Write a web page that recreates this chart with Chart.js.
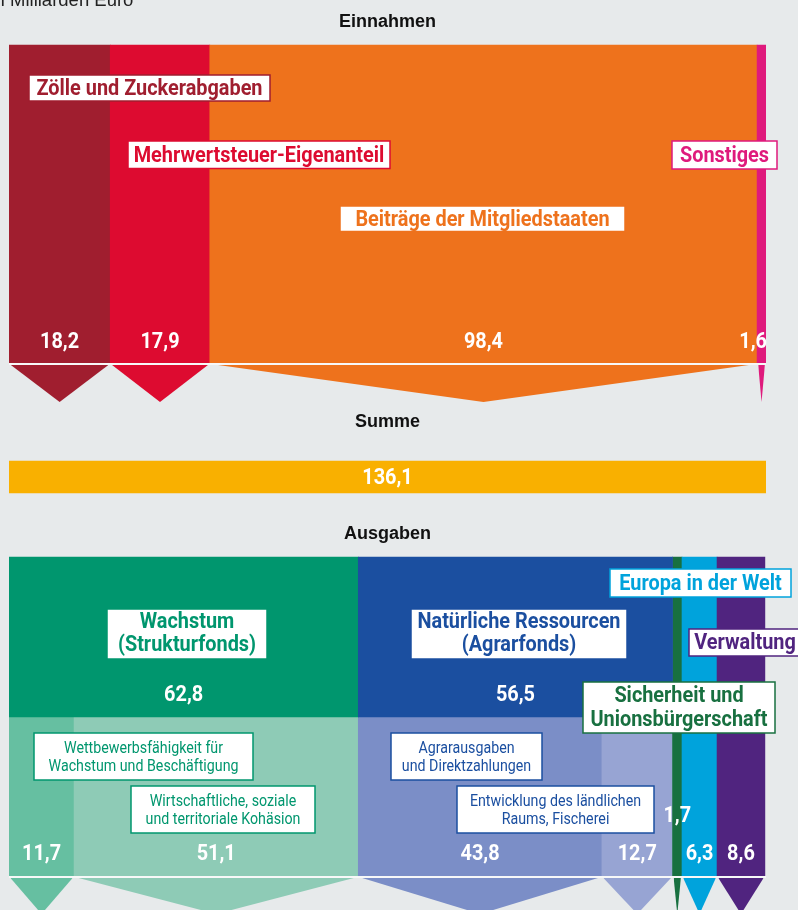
<!DOCTYPE html>
<html lang="de">
<head>
<meta charset="utf-8">
<script src="https://cdn.jsdelivr.net/npm/chart.js@4.4.1/dist/chart.umd.min.js"></script>
<style>
  html, body { margin: 0; padding: 0; background: #e7eaeb; }
  canvas { display: block; }
</style>
</head>
<body>
<canvas id="budget" width="798" height="910"></canvas>
<script>
// EU-Haushalt, in Milliarden Euro
const incomeLabels = [['Zölle und Zuckerabgaben'], ['Mehrwertsteuer-Eigenanteil'], ['Beiträge der Mitgliedstaaten'], ['Sonstiges']];
const incomeValues = [18.2, 17.9, 98.4, 1.6];
const incomeColors = ['#a01e2f', '#dd0b30', '#ee721c', '#df1a7c'];

const totalLabel = 'Summe';
const totalValue = 136.1;
const totalColor = '#f9b000';

const spendLabels = [
    ['Wachstum', '(Strukturfonds)'],
    ['Natürliche Ressourcen', '(Agrarfonds)'],
    ['Sicherheit und', 'Unionsbürgerschaft'],
    ['Europa in der Welt'],
    ['Verwaltung']
];
const spendValues = [62.8, 56.5, 1.7, 6.3, 8.6];
const spendColors = ['#00966e', '#1b4fa0', '#187040', '#00a3dc', '#50247f'];

const subLabels = [
    ['Wettbewerbsfähigkeit für', 'Wachstum und Beschäftigung'],
    ['Wirtschaftliche, soziale', 'und territoriale Kohäsion'],
    ['Agrarausgaben', 'und Direktzahlungen'],
    ['Entwicklung des ländlichen', 'Raums, Fischerei']
];
const subValues = [11.7, 51.1, 43.8, 12.7];
const subColors = ['#66bfa1', '#8ecbb6', '#7b8ec7', '#97a4d3'];

const sectionTitles = ['Einnahmen', totalLabel, 'Ausgaben'];
const unitText = 'In Milliarden Euro';

// layout (y scale runs in pixels, top = 0)
const PLOT_LEFT = 9, PLOT_RIGHT = 766;
const PX_PER_UNIT = (PLOT_RIGHT - PLOT_LEFT) / totalValue;
const ROW_INCOME = [45, 363];
const ROW_TOTAL = [461, 493];
const ROW_SPEND_TOP = [557, 717];
const ROW_SPEND_BOTTOM = [717, 876];
const ARROW_IN = [365, 402];
const ARROW_OUT = [878, 914];
const TEXT_SHIFT = 1; // Roboto sits a little high on 'middle'

const LABEL_FONT = 'Roboto, "Liberation Sans", sans-serif';
const WIDE = '"Liberation Sans", Arial, sans-serif';
const BOLD = 'bold 22.5px ' + LABEL_FONT;
const REGULAR = '16.5px ' + LABEL_FONT;

function spans(values, start) {
    let acc = start || 0;
    return values.map(v => {
        const s = [acc, acc + v];
        acc += v;
        return s;
    });
}

const incomeSpans = spans(incomeValues);
const spendSpans = spans(spendValues);
const subSpans = spans(subValues);
const tallSpans = spendSpans.slice(2);

function barRow(rowSpans, colors, row) {
    return {
        type: 'bar',
        indexAxis: 'y',
        grouped: false,
        barThickness: row[1] - row[0],
        data: rowSpans.map(s => ({ x: s, y: (row[0] + row[1]) / 2 })),
        backgroundColor: colors,
        borderWidth: 0,
        order: 3
    };
}

// downward arrow under a column, with a thin gap along the slanted sides
function arrow(span, color, row) {
    const depth = row[1] - row[0];
    const halfPx = (span[1] - span[0]) / 2 * PX_PER_UNIT;
    let inset = 1.1 * Math.sqrt(1 + Math.pow(halfPx / depth, 2)) / PX_PER_UNIT;
    inset = Math.min(inset, (span[1] - span[0]) / 2 - 0.05);
    return {
        type: 'line',
        indexAxis: 'x',
        data: [
            { x: span[0] + inset, y: row[0] },
            { x: (span[0] + span[1]) / 2, y: row[1] },
            { x: span[1] - inset, y: row[0] }
        ],
        borderColor: 'rgba(0,0,0,0)',
        borderWidth: 0,
        pointRadius: 0,
        tension: 0,
        backgroundColor: color,
        fill: { value: row[0] },
        order: 2
    };
}

function separator(y) {
    return {
        type: 'line',
        indexAxis: 'x',
        data: [{ x: 0, y: y }, { x: totalValue, y: y }],
        borderColor: '#f7f8f8',
        borderWidth: 2,
        pointRadius: 0,
        fill: false,
        order: 1
    };
}

const datasets = [
    barRow(incomeSpans, incomeColors, ROW_INCOME),
    barRow([[0, totalValue]], [totalColor], ROW_TOTAL),
    barRow(spendSpans.slice(0, 2), spendColors.slice(0, 2), ROW_SPEND_TOP),
    barRow(tallSpans, spendColors.slice(2), [ROW_SPEND_TOP[0], ROW_SPEND_BOTTOM[1]]),
    barRow(subSpans, subColors, ROW_SPEND_BOTTOM),
    separator(ROW_INCOME[1] + 1),
    separator(ROW_SPEND_BOTTOM[1] + 1)
];
incomeSpans.forEach((s, i) => datasets.push(arrow(s, incomeColors[i], ARROW_IN)));
subSpans.forEach((s, i) => datasets.push(arrow(s, subColors[i], ARROW_OUT)));
tallSpans.forEach((s, i) => datasets.push(arrow(s, spendColors[i + 2], ARROW_OUT)));

// label boxes: [x0, y0, x1, y1], line centres
const boxes = [
    { lines: incomeLabels[0], rect: [29, 75, 270, 101], ys: [88], color: incomeColors[0], bold: true },
    { lines: incomeLabels[1], rect: [128, 141, 390, 168.5], ys: [155], color: incomeColors[1], bold: true },
    { lines: incomeLabels[2], rect: [340, 206, 625, 231.5], ys: [219], color: incomeColors[2], bold: true },
    { lines: incomeLabels[3], rect: [672, 141, 777, 169], ys: [155], color: incomeColors[3], bold: true },
    { lines: spendLabels[0], rect: [107, 609, 267, 659], ys: [621.5, 644.5], color: spendColors[0], bold: true },
    { lines: spendLabels[1], rect: [411, 609, 627, 659], ys: [621.5, 644.5], color: spendColors[1], bold: true },
    { lines: spendLabels[3], rect: [610, 569, 791, 597], ys: [583], color: spendColors[3], bold: true },
    { lines: spendLabels[4], rect: [689, 629, 801, 656], ys: [642.5], color: spendColors[4], bold: true },
    { lines: spendLabels[2], rect: [583, 682, 775, 733], ys: [695.5, 719], color: spendColors[2], bold: true },
    { lines: subLabels[0], rect: [34, 733, 253, 780], ys: [747.5, 766], color: spendColors[0], bold: false },
    { lines: subLabels[1], rect: [131, 786, 315, 833], ys: [800.5, 819], color: spendColors[0], bold: false },
    { lines: subLabels[2], rect: [391, 733, 542, 780], ys: [747.5, 766], color: spendColors[1], bold: false },
    { lines: subLabels[3], rect: [457, 786, 654, 833], ys: [800.5, 819], color: spendColors[1], bold: false }
];

const fmt = v => v.toFixed(1).replace('.', ',');

// the original uses a condensed face; squeeze the installed one horizontally
function narrowText(ctx, text, x, y, k) {
    ctx.save();
    ctx.translate(x, y + TEXT_SHIFT);
    ctx.scale(k, 1);
    ctx.fillText(text, 0, 0);
    ctx.restore();
}

const labelPlugin = {
    id: 'budgetLabels',
    afterDraw(chart) {
        const ctx = chart.ctx;
        const x = chart.scales.x;
        const mid = s => x.getPixelForValue((s[0] + s[1]) / 2);
        ctx.save();

        ctx.font = BOLD;
        const kBold = 226 / ctx.measureText(incomeLabels[0][0]).width;
        ctx.font = REGULAR;
        const kReg = 159 / ctx.measureText(subLabels[0][0]).width;

        // unit line, cut at the top edge
        ctx.fillStyle = '#222';
        ctx.font = '18.5px ' + WIDE;
        ctx.textBaseline = 'alphabetic';
        ctx.textAlign = 'left';
        const pre = ctx.measureText('In ').width;
        ctx.fillText(unitText, 10 - pre, 5.5);

        // section titles
        ctx.textBaseline = 'middle';
        ctx.textAlign = 'center';
        ctx.fillStyle = '#111';
        ctx.font = 'bold 18px ' + WIDE;
        const cx = x.getPixelForValue(totalValue / 2);
        ctx.fillText(sectionTitles[0], cx, 22.5);
        ctx.fillText(sectionTitles[1], cx, 422);
        ctx.fillText(sectionTitles[2], cx, 534.5);

        // values
        ctx.fillStyle = '#fff';
        ctx.font = BOLD;
        incomeSpans.forEach((s, i) => {
            if (i === 3) {
                ctx.textAlign = 'right';
                narrowText(ctx, fmt(incomeValues[i]), x.getPixelForValue(s[1]) + 1, 341.5, kBold);
                ctx.textAlign = 'center';
            } else {
                narrowText(ctx, fmt(incomeValues[i]), mid(s), 341.5, kBold);
            }
        });
        narrowText(ctx, fmt(totalValue), cx, 477.5, kBold);
        narrowText(ctx, fmt(spendValues[0]), mid(spendSpans[0]), 694, kBold);
        narrowText(ctx, fmt(spendValues[1]), mid(spendSpans[1]), 694, kBold);
        subSpans.forEach((s, i) => narrowText(ctx, fmt(subValues[i]), mid(s), 853.5, kBold));
        narrowText(ctx, fmt(spendValues[2]), mid(spendSpans[2]), 815.5, kBold);
        narrowText(ctx, fmt(spendValues[3]), mid(spendSpans[3]), 853.5, kBold);
        narrowText(ctx, fmt(spendValues[4]), mid(spendSpans[4]), 853.5, kBold);

        // label boxes
        boxes.forEach(b => {
            const [x0, y0, x1, y1] = b.rect;
            ctx.fillStyle = '#fff';
            ctx.fillRect(x0, y0, x1 - x0, y1 - y0);
            ctx.strokeStyle = b.color;
            ctx.lineWidth = 1.5;
            ctx.strokeRect(x0, y0, x1 - x0, y1 - y0);
            ctx.fillStyle = b.color;
            ctx.font = b.bold ? BOLD : REGULAR;
            b.lines.forEach((t, k) => narrowText(ctx, t, (x0 + x1) / 2, b.ys[k], b.bold ? kBold : kReg));
        });
        ctx.restore();
    }
};

new Chart(document.getElementById('budget'), {
    type: 'bar',
    data: { datasets: datasets },
    options: {
        responsive: false,
        animation: false,
        events: [],
        indexAxis: 'y',
        layout: { padding: { left: PLOT_LEFT, right: 798 - PLOT_RIGHT, top: 0, bottom: 0 } },
        scales: {
            x: { type: 'linear', min: 0, max: totalValue, display: false },
            y: { type: 'linear', min: 0, max: 910, reverse: true, offset: false, display: false }
        },
        plugins: {
            legend: { display: false },
            tooltip: { enabled: false }
        }
    },
    plugins: [labelPlugin]
});
</script>
</body>
</html>
